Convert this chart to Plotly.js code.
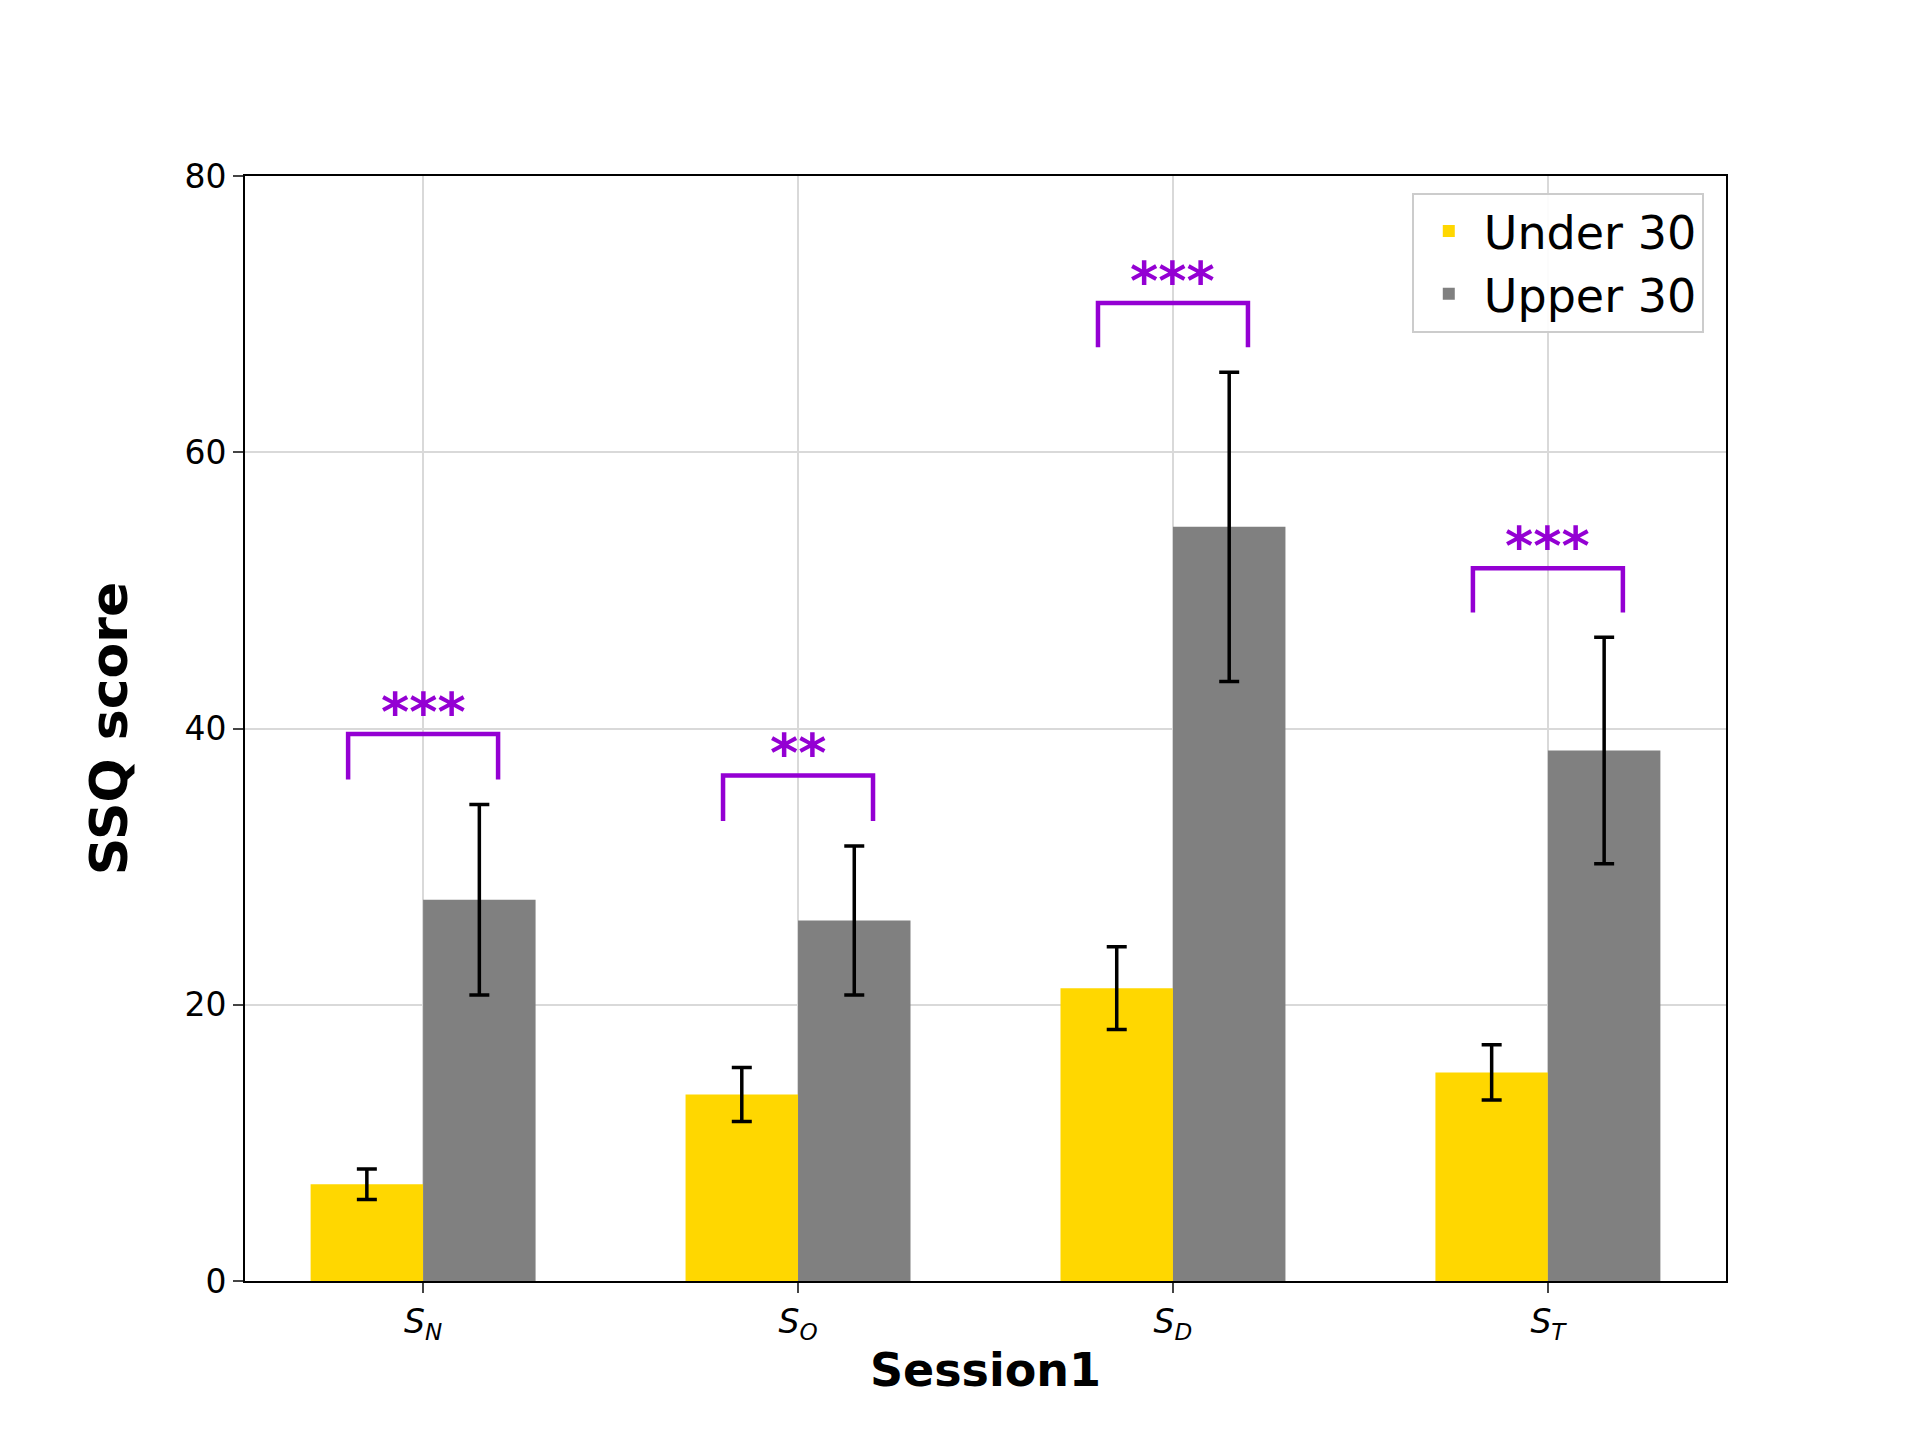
<!DOCTYPE html>
<html>
<head>
<meta charset="utf-8">
<script src="https://cdn.plot.ly/plotly-3.0.1.min.js"></script>
<style>body{margin:0;background:#fff}#plot{width:1920px;height:1440px}</style>
</head>
<body>
<div id="plot"></div>
<script>
// categories and values
var sessions = ['<i>S<sub>N</sub></i>', '<i>S<sub>O</sub></i>', '<i>S<sub>D</sub></i>', '<i>S<sub>T</sub></i>'];
var under30 = [7.0, 13.5, 21.2, 15.1];
var under30Err = [1.1, 1.95, 3.0, 2.0];
var upper30 = [27.6, 26.1, 54.6, 38.4];
var upper30Err = [6.9, 5.4, 11.2, 8.2];
// significance brackets: top of bracket, bottom of legs, stars
var bracketTop = [39.6, 36.6, 70.8, 51.6];
var bracketLeg = [36.3, 33.3, 67.6, 48.4];
var stars = ['***', '**', '***', '***'];

var purple = '#9400D3';
var xIdx = [0, 1, 2, 3];

var traces = [
    {
        type: 'bar', name: 'Under 30', x: xIdx, y: under30,
        marker: {color: '#FFD700'},
        error_y: {type: 'data', array: under30Err, color: '#000', thickness: 3.5, width: 10}
    },
    {
        type: 'bar', name: 'Upper 30', x: xIdx, y: upper30,
        marker: {color: '#808080'},
        error_y: {type: 'data', array: upper30Err, color: '#000', thickness: 3.5, width: 10}
    }
];

var shapes = [];
var annotations = [];
xIdx.forEach(function(i) {
    shapes.push({
        type: 'path', xref: 'x', yref: 'y',
        path: 'M ' + (i - 0.2) + ' ' + bracketLeg[i] + ' L ' + (i - 0.2) + ' ' + bracketTop[i] +
              ' L ' + (i + 0.2) + ' ' + bracketTop[i] + ' L ' + (i + 0.2) + ' ' + bracketLeg[i],
        line: {color: purple, width: 4.5}
    });
    annotations.push({
        x: i, y: bracketTop[i], xref: 'x', yref: 'y', text: '<b>' + stars[i] + '</b>', showarrow: false,
        yanchor: 'bottom', yshift: -12, font: {size: 54, color: purple}
    });
});

var layout = {
    font: {family: 'DejaVu Sans, sans-serif', color: '#000', size: 32},
    paper_bgcolor: '#fff', plot_bgcolor: '#fff',
    margin: {l: 245, r: 168 + 26, t: 176, b: 140 + 19},
    barmode: 'group', bargap: 0.4, bargroupgap: 0,
    showlegend: true,
    legend: {
        x: 0.985, y: 0.985, xanchor: 'right', yanchor: 'top',
        bordercolor: '#ccc', borderwidth: 2, bgcolor: 'rgba(255,255,255,0.9)',
        font: {size: 46}, itemwidth: 60, tracegroupgap: 10
    },
    xaxis: {
        range: [-0.475, 3.475], tickvals: xIdx, ticktext: sessions,
        showgrid: true, gridcolor: '#d9d9d9', gridwidth: 2,
        showline: true, linecolor: '#000', linewidth: 2, mirror: true,
        ticks: 'outside', ticklen: 10, tickwidth: 2, tickfont: {size: 33},
        title: {text: '<b>Session1</b>', font: {size: 46}, standoff: 10}, zeroline: false
    },
    yaxis: {
        range: [0, 80], dtick: 20,
        showgrid: true, gridcolor: '#d9d9d9', gridwidth: 2,
        showline: true, linecolor: '#000', linewidth: 2, mirror: true,
        ticks: 'outside', ticklen: 10, tickwidth: 2, tickfont: {size: 33},
        title: {text: '<b>SSQ score</b>', font: {size: 52}, standoff: 40}, zeroline: false
    },
    shapes: shapes,
    annotations: annotations
};

Plotly.newPlot('plot', traces, layout, {displayModeBar: false});
</script>
</body>
</html>
